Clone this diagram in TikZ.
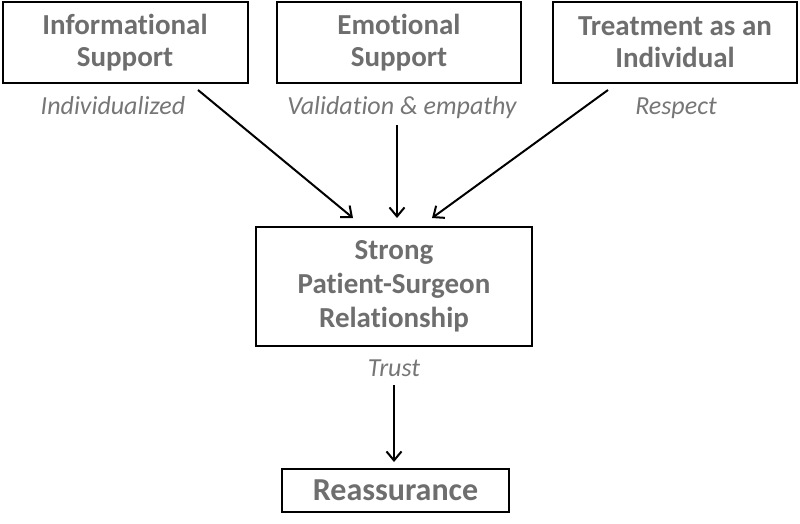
\documentclass[tikz,border=0pt]{standalone}
\usepackage{fontspec}
\setmainfont[Ligatures=NoCommon]{Carlito}
\usetikzlibrary{arrows.meta}
\definecolor{txt}{HTML}{6E6E6E}
\definecolor{lbl}{HTML}{767676}
\tikzset{
  box/.style={draw=black, line width=2pt, inner sep=0pt, align=center, text=txt,
    font=\bfseries\fontsize{29}{32}\selectfont},
  lab/.style={inner sep=0pt, text=lbl, font=\itshape\fontsize{26}{30}\selectfont},
  arr/.style={line width=2pt, -{Straight Barb[length=9pt,width=15pt,line width=2pt]}}
}
\begin{document}
\begin{tikzpicture}[x=1pt,y=-1pt]
\useasboundingbox (0,0) rectangle (800,523);
\node[box, minimum width=245pt, minimum height=81pt] (info) at (125,42.5) {Informational\\Support};
\node[box, minimum width=244pt, minimum height=81pt] (emo) at (399,42.5) {Emotional\\Support};
\node[box, minimum width=244pt, minimum height=81pt] (treat) at (675,42.5) {Treatment as an\\Individual};
\node[box, minimum width=276pt, minimum height=119pt, font=\bfseries\fontsize{29}{34}\selectfont] (rel) at (394,286.5) {Strong\\Patient-Surgeon\\Relationship};
\node[box, minimum width=227pt, minimum height=43pt, font=\bfseries\fontsize{32}{36}\selectfont] (reas) at (395.5,490.5) {Reassurance};
\node[lab] (l1) at (113,106) {Individualized};
\node[lab] (l2) at (402,108) {Validation \& empathy};
\node[lab] (l3) at (676,108) {Respect};
\node[lab] (l4) at (394,368) {Trust};
\coordinate (a1s) at (198,90);
\coordinate (a1e) at (353,218);
\coordinate (a2s) at (397,125);
\coordinate (a2e) at (397,218);
\coordinate (a3s) at (608,90);
\coordinate (a3e) at (432,218);
\coordinate (a4s) at (394,385);
\coordinate (a4e) at (394,462);
\draw[arr] (a1s) -- (a1e);
\draw[arr] (a2s) -- (a2e);
\draw[arr] (a3s) -- (a3e);
\draw[arr] (a4s) -- (a4e);
\end{tikzpicture}
\end{document}
